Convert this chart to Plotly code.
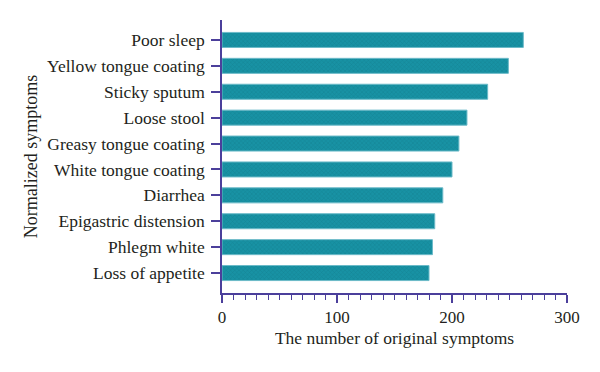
import plotly.graph_objects as go

symptoms = ["Poor sleep", "Yellow tongue coating", "Sticky sputum", "Loose stool",
            "Greasy tongue coating", "White tongue coating", "Diarrhea",
            "Epigastric distension", "Phlegm white", "Loss of appetite"]
counts = [262, 249, 231, 213, 206, 200, 192, 185, 183, 180]

axis_color = "#4b3f9b"
font = "Liberation Serif"

fig = go.Figure(go.Bar(
    x=counts, y=symptoms, orientation="h", width=0.58,
    marker=dict(color="#1892a4",
                line=dict(color="#6bbac8", width=1),
                pattern=dict(shape="x", fgcolor="#127585", size=3, solidity=0.3)),
))

fig.update_layout(
    width=592, height=364,
    margin=dict(l=214, r=33, t=12, b=79),
    plot_bgcolor="white", paper_bgcolor="white",
    font=dict(family=font, size=17.5, color="#231f20"),
    showlegend=False,
    xaxis=dict(range=[0, 300], tickvals=[0, 100, 200, 300],
               ticks="outside", ticklen=8, tickwidth=1.5, tickcolor=axis_color,
               showline=True, linecolor=axis_color, linewidth=1.5,
               showgrid=False, zeroline=False,
               tickfont=dict(size=17),
               minor=dict(ticks="outside", ticklen=5, dtick=10, tickcolor=axis_color, tickwidth=1),
               title=dict(text="The number of original symptoms", standoff=6,
                          font=dict(family=font, size=17.5))),
    yaxis=dict(categoryorder="array", categoryarray=symptoms[::-1],
               range=[-0.77, 9.77],
               ticks="outside", ticklen=9, tickwidth=1.5, tickcolor=axis_color,
               ticklabelstandoff=3,
               showline=True, linecolor=axis_color, linewidth=1.5,
               showgrid=False, zeroline=False,
               title=dict(text="Normalized symptoms", standoff=5,
                          font=dict(family=font, size=18))),
)

fig.write_html("out.html")
